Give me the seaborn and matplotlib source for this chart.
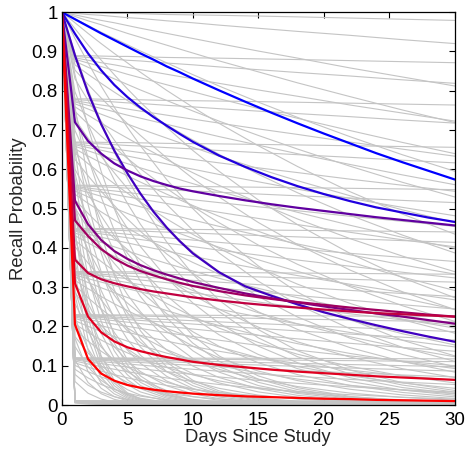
import pandas as pd
import matplotlib
matplotlib.use("Agg")
import matplotlib.pyplot as plt
import seaborn as sns

# sampling days for the grey background curves
gray_days = [0, 1, 2, 3, 4, 5, 6, 8, 10, 12, 15, 18, 22, 26, 30]

# grey background family: recall level after day 1 ...
gray_levels = [0.01, 0.12, 0.23, 0.34, 0.45, 0.56, 0.67, 0.78, 0.89, 1.0]
# ... times the fraction retained on days 1..30, one row per half-life
gray_retention = [
    [0.500, 0.250, 0.125, 0.063, 0.031, 0.016, 0.004, 0.001, 0.000, 0.000, 0.000, 0.000, 0.000, 0.000],
    [0.648, 0.420, 0.273, 0.177, 0.115, 0.074, 0.031, 0.013, 0.006, 0.002, 0.000, 0.000, 0.000, 0.000],
    [0.758, 0.574, 0.435, 0.330, 0.250, 0.189, 0.109, 0.063, 0.036, 0.016, 0.007, 0.002, 0.001, 0.000],
    [0.841, 0.707, 0.595, 0.500, 0.420, 0.354, 0.250, 0.177, 0.125, 0.074, 0.044, 0.022, 0.011, 0.006],
    [0.896, 0.803, 0.719, 0.644, 0.577, 0.517, 0.415, 0.333, 0.267, 0.192, 0.138, 0.089, 0.057, 0.037],
    [0.933, 0.871, 0.812, 0.758, 0.707, 0.660, 0.574, 0.500, 0.435, 0.354, 0.287, 0.218, 0.165, 0.125],
    [0.958, 0.917, 0.878, 0.841, 0.805, 0.771, 0.707, 0.648, 0.595, 0.522, 0.459, 0.386, 0.324, 0.273],
    [0.973, 0.946, 0.920, 0.895, 0.871, 0.847, 0.801, 0.758, 0.717, 0.660, 0.607, 0.543, 0.486, 0.435],
    [0.983, 0.966, 0.949, 0.933, 0.917, 0.901, 0.871, 0.841, 0.812, 0.771, 0.732, 0.683, 0.637, 0.595],
    [0.989, 0.978, 0.968, 0.957, 0.946, 0.936, 0.916, 0.896, 0.876, 0.848, 0.820, 0.785, 0.751, 0.719],
    [0.993, 0.986, 0.979, 0.973, 0.966, 0.959, 0.946, 0.933, 0.920, 0.901, 0.883, 0.858, 0.835, 0.812],
    [0.997, 0.994, 0.992, 0.989, 0.986, 0.984, 0.978, 0.973, 0.967, 0.959, 0.951, 0.941, 0.930, 0.920],
    [0.999, 0.999, 0.998, 0.997, 0.997, 0.996, 0.994, 0.993, 0.992, 0.990, 0.988, 0.985, 0.982, 0.979],
]

# highlighted curves, blue (top) to red (bottom)
fit_days = [0, 1, 2, 3, 4, 5, 6, 7, 8, 9, 10, 12, 14, 16, 18, 20, 22, 24, 26, 28, 30]
curve_a = [1, .982, .964, .946, .929, .912, .895, .879, .862, .847, .831, .801, .772, .744, .717, .691, .666, .641, .618, .596, .574]
curve_b = [1, .945, .895, .852, .815, .784, .757, .733, .711, .69, .67, .635, .606, .58, .557, .537, .519, .503, .49, .477, .466]
curve_c = [1, .89, .795, .715, .648, .59, .538, .492, .452, .417, .386, .338, .302, .278, .256, .236, .219, .203, .188, .174, .161]
curve_d = [1, .72, .672, .64, .615, .597, .582, .57, .56, .551, .544, .532, .521, .511, .502, .494, .486, .478, .471, .464, .457]
curve_e = [1, .52, .46, .42, .392, .372, .356, .343, .332, .322, .313, .298, .284, .272, .261, .251, .242, .233, .225, .216, .207]
curve_f = [1, .47, .43, .397, .373, .355, .341, .33, .32, .311, .303, .29, .279, .27, .262, .255, .248, .242, .236, .23, .225]
curve_g = [1, .37, .336, .32, .31, .302, .295, .289, .284, .279, .274, .266, .259, .253, .248, .243, .238, .234, .231, .228, .225]
curve_h = [1, .31, .225, .185, .162, .147, .137, .129, .122, .116, .11, .102, .096, .09, .085, .081, .077, .073, .07, .067, .064]
curve_i = [1, .205, .117, .08, .062, .051, .044, .039, .035, .032, .029, .025, .022, .02, .018, .016, .015, .013, .012, .011, .01]
fits = [curve_a, curve_b, curve_c, curve_d, curve_e, curve_f, curve_g, curve_h, curve_i]
fit_colors = ["#0000ff", "#2000df", "#4000c0", "#6000a0", "#800080",
              "#a00060", "#c00040", "#e00020", "#ff0000"]

x_ticks = [0, 5, 10, 15, 20, 25, 30]
y_ticks = [0, 0.1, 0.2, 0.3, 0.4, 0.5, 0.6, 0.7, 0.8, 0.9, 1]
y_tick_labels = ["0", "0.1", "0.2", "0.3", "0.4", "0.5", "0.6", "0.7", "0.8", "0.9", "1"]

rows = []
n = 0
for level in gray_levels:
    for ret in gray_retention:
        vals = [1.0] + [level * r for r in ret]
        for d, v in zip(gray_days, vals):
            rows.append({"day": d, "p": v, "curve": n})
        n += 1
gray_df = pd.DataFrame(rows)

rows = []
for k, vals in enumerate(fits):
    for d, v in zip(fit_days, vals):
        rows.append({"day": d, "p": v, "fit": k})
fit_df = pd.DataFrame(rows)

sns.set_style("ticks")
plt.rcParams["font.family"] = ["Liberation Sans", "DejaVu Sans"]

fig = plt.figure(figsize=(4.65, 4.5), dpi=100)
ax = fig.add_axes([0.133, 0.1, 0.845, 0.873])

sns.lineplot(data=gray_df, x="day", y="p", units="curve", estimator=None,
             color="#c4c4c4", linewidth=0.8, ax=ax, legend=False)
sns.lineplot(data=fit_df, x="day", y="p", hue="fit", palette=fit_colors,
             estimator=None, linewidth=1.6, ax=ax, legend=False)

ax.set_xlim(0, 30)
ax.set_ylim(0, 1)
ax.set_xticks(x_ticks)
ax.set_xticklabels([str(t) for t in x_ticks])
ax.set_yticks(y_ticks)
ax.set_yticklabels(y_tick_labels)
ax.tick_params(direction="in", top=True, right=True, length=4, width=0.8,
               labelsize=13.5, colors="black")
ax.tick_params(axis="x", pad=5)
ax.tick_params(axis="y", pad=3)
for s in ax.spines.values():
    s.set_linewidth(0.9)
    s.set_color("black")
ax.set_xlabel("Days Since Study", fontsize=13.3, labelpad=0)
ax.set_ylabel("Recall Probability", fontsize=13.3, labelpad=3)

fig.savefig("out.png", dpi=100)
